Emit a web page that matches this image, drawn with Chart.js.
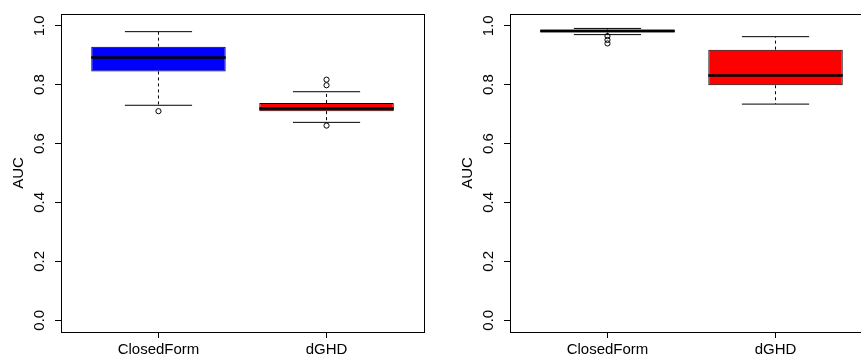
<!DOCTYPE html>
<html lang="en">
<head>
  <meta charset="UTF-8">
  <title>AUC boxplots</title>
  <script src="https://cdn.jsdelivr.net/npm/chart.js"></script>
  <style>
    html, body {
      margin: 0;
      padding: 0;
      background: #ffffff;
      overflow: hidden;
    }
    .wrap {
      position: relative;
      width: 861px;
      height: 358px;
      overflow: hidden;
    }
    .panel {
      position: absolute;
      top: 0;
      width: 430px;
      height: 358px;
    }
  </style>
</head>
<body>
  <div class="wrap">
    <div class="panel" style="left:0"><canvas id="leftChart" width="430" height="358"></canvas></div>
    <div class="panel" style="left:449px"><canvas id="rightChart" width="430" height="358"></canvas></div>
  </div>

  <script>
    const categories = ['ClosedForm', 'dGHD'];
    const yTicks = [0, 0.2, 0.4, 0.6, 0.8, 1.0];
    const yTickLabels = ['0.0', '0.2', '0.4', '0.6', '0.8', '1.0'];
    const boxColors = ['#0000ff', '#ff0000'];

    // left panel
    const leftLow = [0.730, 0.672];
    const leftQ1 = [0.845, 0.710];
    const leftMedian = [0.892, 0.719];
    const leftQ3 = [0.929, 0.738];
    const leftHigh = [0.980, 0.776];
    const leftOutliers = [[0.710], [0.817, 0.798, 0.661]];

    // right panel
    const rightLow = [0.970, 0.734];
    const rightQ1 = [0.977, 0.798];
    const rightMedian = [0.982, 0.831];
    const rightQ3 = [0.987, 0.919];
    const rightHigh = [0.991, 0.963];
    const rightOutliers = [[0.965, 0.952, 0.940], []];

    const font = { family: "'Liberation Sans', Arial, sans-serif", size: 15 };

    // box outline around the plot region, like R's frame
    const framePlugin = {
      id: 'frame',
      afterDraw(chart) {
        const a = chart.chartArea;
        const ctx = chart.ctx;
        ctx.save();
        ctx.strokeStyle = '#000000';
        ctx.lineWidth = 1;
        ctx.strokeRect(a.left + 0.5, a.top + 0.5, a.right - a.left, a.bottom - a.top);
        ctx.restore();
      }
    };

    function segment(x1, y1, x2, y2, width, dash) {
      return {
        type: 'line',
        data: [{ x: x1, y: y1 }, { x: x2, y: y2 }],
        borderColor: '#000000',
        borderWidth: width,
        borderDash: dash || [],
        pointRadius: 0,
        fill: false,
        order: 0
      };
    }

    function boxDatasets(low, q1, median, q3, high, outliers) {
      const sets = [{
        type: 'bar',
        data: categories.map((c, i) => ({ x: i + 1, y: [q1[i], q3[i]] })),
        backgroundColor: boxColors,
        borderColor: '#000000',
        borderWidth: 1,
        borderSkipped: false,
        barPercentage: 0.8,
        categoryPercentage: 1,
        order: 1
      }];
      categories.forEach((c, i) => {
        const x = i + 1;
        sets.push(segment(x, q3[i], x, high[i], 1, [3, 3]));
        sets.push(segment(x, q1[i], x, low[i], 1, [3, 3]));
        sets.push(segment(x - 0.2, high[i], x + 0.2, high[i], 1));
        sets.push(segment(x - 0.2, low[i], x + 0.2, low[i], 1));
        sets.push(segment(x - 0.4, median[i], x + 0.4, median[i], 2.5));
      });
      sets.push({
        type: 'line',
        showLine: false,
        data: outliers.flatMap((vals, i) => vals.map(v => ({ x: i + 1, y: v }))),
        pointRadius: 2.6,
        pointBorderWidth: 1,
        pointBorderColor: '#000000',
        pointBackgroundColor: 'rgba(0,0,0,0)',
        order: 0
      });
      return sets;
    }

    function boxChart(id, datasets) {
      return new Chart(document.getElementById(id), {
        type: 'bar',
        data: { datasets: datasets },
        plugins: [framePlugin],
        options: {
          responsive: false,
          animation: false,
          layout: { padding: { top: 8, right: 6, left: 0, bottom: 0 } },
          plugins: {
            legend: { display: false },
            tooltip: { enabled: false }
          },
          scales: {
            x: {
              type: 'linear',
              min: 0.42,
              max: 2.58,
              offset: false,
              afterBuildTicks: axis => { axis.ticks = categories.map((c, i) => ({ value: i + 1 })); },
              afterFit: axis => { axis.height = 26; },
              grid: { offset: false, drawOnChartArea: false, drawTicks: true, tickLength: 6, color: '#000000' },
              border: { display: false },
              ticks: {
                autoSkip: false,
                maxRotation: 0,
                color: '#000000',
                font: font,
                padding: 3,
                callback: (v, i) => categories[i]
              }
            },
            y: {
              min: -0.04,
              max: 1.04,
              afterBuildTicks: axis => { axis.ticks = yTicks.map(v => ({ value: v })); },
              afterFit: axis => { axis.width = 61; },
              grid: { drawOnChartArea: false, drawTicks: true, tickLength: 6, color: '#000000' },
              border: { display: false },
              ticks: {
                autoSkip: false,
                minRotation: 90,
                maxRotation: 90,
                crossAlign: 'center',
                color: '#000000',
                font: font,
                padding: 5,
                callback: (v, i) => yTickLabels[i]
              },
              title: {
                display: true,
                text: 'AUC',
                color: '#000000',
                font: font,
                padding: { top: 10, bottom: 0 }
              }
            }
          }
        }
      });
    }

    // LEFT PANEL
    boxChart('leftChart', boxDatasets(leftLow, leftQ1, leftMedian, leftQ3, leftHigh, leftOutliers));

    // RIGHT PANEL
    boxChart('rightChart', boxDatasets(rightLow, rightQ1, rightMedian, rightQ3, rightHigh, rightOutliers));
  </script>
</body>
</html>
